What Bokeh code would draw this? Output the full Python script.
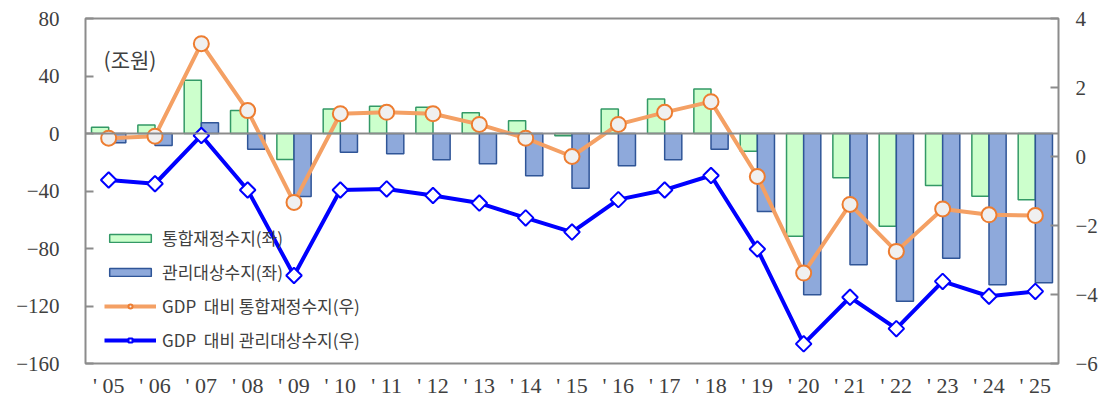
from bokeh.plotting import figure
from bokeh.models import (Range1d, LinearAxis, FactorRange, FixedTicker, Legend,
                          LegendItem, Label, Span, ColumnDataSource)
from bokeh.transform import dodge
from bokeh.embed import file_html
from bokeh.resources import INLINE

years = ["' 05", "' 06", "' 07", "' 08", "' 09", "' 10", "' 11", "' 12", "' 13", "' 14",
         "' 15", "' 16", "' 17", "' 18", "' 19", "' 20", "' 21", "' 22", "' 23", "' 24", "' 25"]

# 조원 (left axis)
total_balance = [4.4, 6, 37, 16, -18, 17, 19, 18.3, 14.4, 8.8, -1.5, 17, 24, 31, -12.3,
                 -71.4, -30.8, -64.5, -36.2, -43.6, -46.1]
managed_balance = [-6.5, -8.3, 7.4, -11, -43.8, -13, -14.1, -18.3, -21.1, -29.4, -38,
                   -22.5, -18.3, -11, -54.3, -112.2, -91.3, -116.7, -86.7, -105.3, -103.9]
# % of GDP (right axis)
total_gdp = [0.53, 0.59, 3.27, 1.33, -1.33, 1.24, 1.28, 1.24, 0.93, 0.53, 0.0, 0.93, 1.28,
             1.59, -0.58, -3.38, -1.39, -2.75, -1.52, -1.69, -1.71]
managed_gdp = [-0.68, -0.79, 0.61, -0.97, -3.45, -0.97, -0.94, -1.13, -1.35, -1.78, -2.19,
               -1.25, -0.97, -0.55, -2.68, -5.43, -4.08, -4.99, -3.62, -4.05, -3.91]

left_ticks = [-160, -120, -80, -40, 0, 40, 80]
right_ticks = [-6, -4, -2, 0, 2, 4]

src = ColumnDataSource(dict(year=years, g=total_balance, b=managed_balance,
                            og=total_gdp, bg=managed_gdp))

NUM_FONT = "Liberation Serif"
KR_FONT = "Noto Sans CJK KR"
GREY = "#8c8c8c"
TXT = "#404040"

p = figure(x_range=FactorRange(*years), y_range=Range1d(-160, 80),
           width=1102, height=400, output_backend="svg", toolbar_location=None,
           min_border_left=85, min_border_right=44, min_border_top=18, min_border_bottom=37)
p.extra_y_ranges = {"right": Range1d(-6, 4)}

p.xgrid.visible = False
p.ygrid.visible = False
p.outline_line_color = GREY
p.outline_line_width = 2
p.background_fill_color = "white"

# Zero line
p.add_layout(Span(location=0, dimension="width", line_color=GREY, line_width=2))

gbar = p.vbar(x=dodge("year", -0.185, range=p.x_range), top="g", bottom=0, width=0.37,
              source=src, fill_color="#CCFFCC", line_color="#339966", line_width=1.5)
bbar = p.vbar(x=dodge("year", 0.185, range=p.x_range), top="b", bottom=0, width=0.37,
              source=src, fill_color="#8EA9DB", line_color="#2F5597", line_width=1.5)

ol = p.line("year", "og", source=src, y_range_name="right", line_color="#F4A064", line_width=4)
om = p.scatter("year", "og", source=src, y_range_name="right", marker="circle", size=15,
               fill_color="#F0F0F0", line_color="#ED7D31", line_width=2)
bl = p.line("year", "bg", source=src, y_range_name="right", line_color="#0000FF", line_width=4)
bm = p.scatter("year", "bg", source=src, y_range_name="right", marker="square", size=11,
               angle=0.7854, fill_color="white", line_color="#0000FF", line_width=2)

# Axes
la = p.yaxis[0]
la.ticker = FixedTicker(ticks=left_ticks)
la.axis_line_color = None
la.major_tick_in = 8
la.major_tick_out = 0
la.major_tick_line_color = GREY
la.major_tick_line_width = 2
la.minor_tick_line_color = None
la.major_label_standoff = 26
la.major_label_text_font = NUM_FONT
la.major_label_text_font_size = "21px"
la.major_label_text_color = TXT

ra = LinearAxis(y_range_name="right", ticker=FixedTicker(ticks=right_ticks))
ra.axis_line_color = None
ra.major_tick_in = 8
ra.major_tick_out = 0
ra.major_tick_line_color = GREY
ra.major_tick_line_width = 2
ra.minor_tick_line_color = None
ra.major_label_standoff = 17
ra.major_label_text_font = NUM_FONT
ra.major_label_text_font_size = "21px"
ra.major_label_text_color = TXT
p.add_layout(ra, "right")

xa = p.xaxis[0]
xa.axis_line_color = None
xa.major_tick_line_color = None
xa.minor_tick_line_color = None
xa.major_label_standoff = 3
xa.major_label_text_font = NUM_FONT
xa.major_label_text_font_size = "22px"
xa.major_label_text_color = TXT

# Unit label
p.add_layout(Label(x=0.39, y=52, text="(조원)", text_font=KR_FONT, text_font_size="21px",
                   text_color=TXT, text_baseline="middle"))

legend = Legend(items=[
    LegendItem(label="통합재정수지(좌)", renderers=[gbar]),
    LegendItem(label="관리대상수지(좌)", renderers=[bbar]),
    LegendItem(label="GDP  대비 통합재정수지(우)", renderers=[ol, om]),
    LegendItem(label="GDP  대비 관리대상수지(우)", renderers=[bl, bm]),
], location=(19, 11))
legend.border_line_color = None
legend.background_fill_alpha = 0
legend.padding = 0
legend.margin = 0
legend.glyph_width = 52
legend.glyph_height = 10
legend.label_height = 20
legend.spacing = 9
legend.label_standoff = 6
legend.label_text_font = KR_FONT
legend.label_text_font_size = "17px"
legend.label_text_color = TXT
p.add_layout(legend, "center")

open("out.html", "w").write(file_html(p, INLINE))
